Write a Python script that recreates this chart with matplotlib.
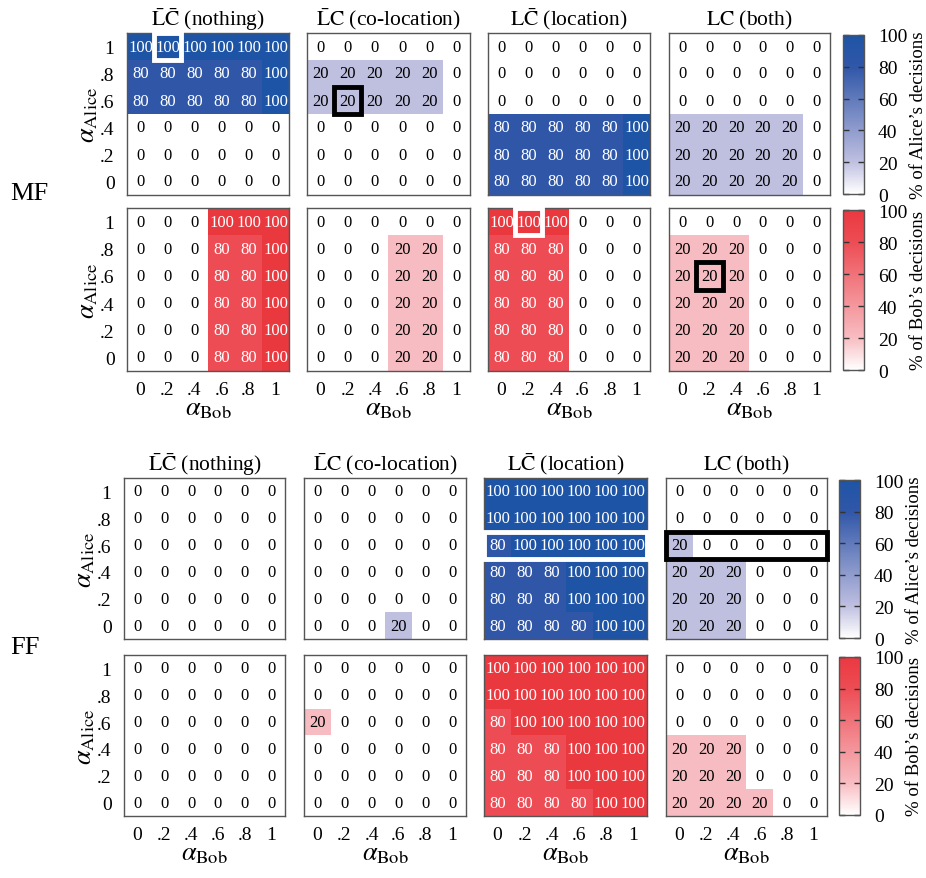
import numpy as np
import matplotlib
matplotlib.use('Agg')
import matplotlib.pyplot as plt
from matplotlib.colors import LinearSegmentedColormap
from matplotlib.patches import Rectangle

plt.rcParams['font.family'] = ['Liberation Serif', 'STIXGeneral']
plt.rcParams['mathtext.fontset'] = 'stix'

alpha_ticks = ['0', '.2', '.4', '.6', '.8', '1']
alice_ticks = ['1', '.8', '.6', '.4', '.2', '0']   # top row first
titles = [r'$\bar{\mathrm{L}}\bar{\mathrm{C}}$ (nothing)',
          r'$\bar{\mathrm{L}}\mathrm{C}$ (co-location)',
          r'$\mathrm{L}\bar{\mathrm{C}}$ (location)',
          r'$\mathrm{LC}$ (both)']

# rows: alpha_Alice = 1, .8, .6, .4, .2, 0 ; cols: alpha_Bob = 0 ... 1
mf_alice_nothing = [[100, 100, 100, 100, 100, 100],
                    [80, 80, 80, 80, 80, 100],
                    [80, 80, 80, 80, 80, 100],
                    [0, 0, 0, 0, 0, 0],
                    [0, 0, 0, 0, 0, 0],
                    [0, 0, 0, 0, 0, 0]]
mf_alice_coloc = [[0, 0, 0, 0, 0, 0],
                  [20, 20, 20, 20, 20, 0],
                  [20, 20, 20, 20, 20, 0],
                  [0, 0, 0, 0, 0, 0],
                  [0, 0, 0, 0, 0, 0],
                  [0, 0, 0, 0, 0, 0]]
mf_alice_loc = [[0, 0, 0, 0, 0, 0],
                [0, 0, 0, 0, 0, 0],
                [0, 0, 0, 0, 0, 0],
                [80, 80, 80, 80, 80, 100],
                [80, 80, 80, 80, 80, 100],
                [80, 80, 80, 80, 80, 100]]
mf_alice_both = [[0, 0, 0, 0, 0, 0],
                 [0, 0, 0, 0, 0, 0],
                 [0, 0, 0, 0, 0, 0],
                 [20, 20, 20, 20, 20, 0],
                 [20, 20, 20, 20, 20, 0],
                 [20, 20, 20, 20, 20, 0]]

mf_bob_nothing = [[0, 0, 0, 100, 100, 100],
                  [0, 0, 0, 80, 80, 100],
                  [0, 0, 0, 80, 80, 100],
                  [0, 0, 0, 80, 80, 100],
                  [0, 0, 0, 80, 80, 100],
                  [0, 0, 0, 80, 80, 100]]
mf_bob_coloc = [[0, 0, 0, 0, 0, 0],
                [0, 0, 0, 20, 20, 0],
                [0, 0, 0, 20, 20, 0],
                [0, 0, 0, 20, 20, 0],
                [0, 0, 0, 20, 20, 0],
                [0, 0, 0, 20, 20, 0]]
mf_bob_loc = [[100, 100, 100, 0, 0, 0],
              [80, 80, 80, 0, 0, 0],
              [80, 80, 80, 0, 0, 0],
              [80, 80, 80, 0, 0, 0],
              [80, 80, 80, 0, 0, 0],
              [80, 80, 80, 0, 0, 0]]
mf_bob_both = [[0, 0, 0, 0, 0, 0],
               [20, 20, 20, 0, 0, 0],
               [20, 20, 20, 0, 0, 0],
               [20, 20, 20, 0, 0, 0],
               [20, 20, 20, 0, 0, 0],
               [20, 20, 20, 0, 0, 0]]

ff_alice_nothing = [[0] * 6 for _ in range(6)]
ff_alice_coloc = [[0, 0, 0, 0, 0, 0],
                  [0, 0, 0, 0, 0, 0],
                  [0, 0, 0, 0, 0, 0],
                  [0, 0, 0, 0, 0, 0],
                  [0, 0, 0, 0, 0, 0],
                  [0, 0, 0, 20, 0, 0]]
ff_alice_loc = [[100, 100, 100, 100, 100, 100],
                [100, 100, 100, 100, 100, 100],
                [80, 100, 100, 100, 100, 100],
                [80, 80, 80, 100, 100, 100],
                [80, 80, 80, 100, 100, 100],
                [80, 80, 80, 80, 100, 100]]
ff_alice_both = [[0, 0, 0, 0, 0, 0],
                 [0, 0, 0, 0, 0, 0],
                 [20, 0, 0, 0, 0, 0],
                 [20, 20, 20, 0, 0, 0],
                 [20, 20, 20, 0, 0, 0],
                 [20, 20, 20, 0, 0, 0]]

ff_bob_nothing = [[0] * 6 for _ in range(6)]
ff_bob_coloc = [[0, 0, 0, 0, 0, 0],
                [0, 0, 0, 0, 0, 0],
                [20, 0, 0, 0, 0, 0],
                [0, 0, 0, 0, 0, 0],
                [0, 0, 0, 0, 0, 0],
                [0, 0, 0, 0, 0, 0]]
ff_bob_loc = [[100, 100, 100, 100, 100, 100],
              [100, 100, 100, 100, 100, 100],
              [80, 100, 100, 100, 100, 100],
              [80, 80, 80, 100, 100, 100],
              [80, 80, 80, 100, 100, 100],
              [80, 80, 80, 80, 100, 100]]
ff_bob_both = [[0, 0, 0, 0, 0, 0],
               [0, 0, 0, 0, 0, 0],
               [0, 0, 0, 0, 0, 0],
               [20, 20, 20, 0, 0, 0],
               [20, 20, 20, 0, 0, 0],
               [20, 20, 20, 20, 0, 0]]

blues = LinearSegmentedColormap.from_list('alice', [
    (0.0, (1, 1, 1)), (0.2, (0.75, 0.75, 0.88)),
    (0.8, (0.19, 0.34, 0.66)), (1.0, (0.12, 0.33, 0.65))])
reds = LinearSegmentedColormap.from_list('bob', [
    (0.0, (1, 1, 1)), (0.2, (0.97, 0.74, 0.76)),
    (0.8, (0.93, 0.30, 0.33)), (1.0, (0.92, 0.22, 0.25))])

rows = [
    dict(data=[mf_alice_nothing, mf_alice_coloc, mf_alice_loc, mf_alice_both],
         cmap=blues, label='% of Alice’s decisions', y=(34, 196), xs='MF', titles=True, xt=False),
    dict(data=[mf_bob_nothing, mf_bob_coloc, mf_bob_loc, mf_bob_both],
         cmap=reds, label='% of Bob’s decisions', y=(209, 372), xs='MF', titles=False, xt=True),
    dict(data=[ff_alice_nothing, ff_alice_coloc, ff_alice_loc, ff_alice_both],
         cmap=blues, label='% of Alice’s decisions', y=(479, 640), xs='FF', titles=True, xt=False),
    dict(data=[ff_bob_nothing, ff_bob_coloc, ff_bob_loc, ff_bob_both],
         cmap=reds, label='% of Bob’s decisions', y=(656, 817), xs='FF', titles=False, xt=True),
]
col_x = {'MF': [(127, 289), (307, 470), (488, 650), (669, 830), (843, 864)],
         'FF': [(124, 285), (304, 466), (484, 647), (666, 827), (839, 860)]}

# highlighted cells: (row index, panel, row, col, ncols, colour)
highlights = [(0, 0, 0, 1, 1, 'white'), (0, 1, 2, 1, 1, 'black'),
              (1, 2, 0, 1, 1, 'white'), (1, 3, 2, 1, 1, 'black'),
              (2, 2, 2, 0, 6, 'white'), (2, 3, 2, 0, 6, 'black')]

W, H = 926, 879
fig = plt.figure(figsize=(W / 100, H / 100), dpi=100)


def add_px(x0, x1, y0, y1):
    return fig.add_axes([x0 / W, 1 - y1 / H, (x1 - x0) / W, (y1 - y0) / H])


axes = {}
for ri, row in enumerate(rows):
    xs = col_x[row['xs']]
    y0, y1 = row['y']
    for pi, d in enumerate(row['data']):
        arr = np.array(d)
        ax = add_px(xs[pi][0], xs[pi][1], y0, y1)
        axes[(ri, pi)] = ax
        im = ax.imshow(arr, cmap=row['cmap'], vmin=0, vmax=100, aspect='auto',
                       extent=(-0.5, 5.5, 5.5, -0.5), interpolation='nearest')
        for r in range(6):
            for c in range(6):
                v = arr[r, c]
                ax.text(c, r, str(v), ha='center', va='center', fontsize=12,
                        color='white' if v >= 50 else 'black')
        for s in ax.spines.values():
            s.set_color('#555555')
            s.set_linewidth(1)
        ax.tick_params(length=0)
        ax.set_xticks(range(6))
        ax.set_yticks(range(6))
        if row['xt']:
            ax.set_xticklabels(alpha_ticks, fontsize=14)
            ax.tick_params(axis='x', pad=7)
            ax.set_xlabel(r'$\alpha_{\mathrm{Bob}}$', fontsize=19, labelpad=0)
        else:
            ax.set_xticklabels([])
        if pi == 0:
            ax.set_yticklabels(alice_ticks, fontsize=14)
            ax.tick_params(axis='y', pad=9)
            ax.set_ylabel(r'$\alpha_{\mathrm{Alice}}$', fontsize=19, labelpad=0)
        else:
            ax.set_yticklabels([])
        if row['titles']:
            ax.set_title(titles[pi], fontsize=15.5, pad=6)
    cax = add_px(xs[4][0], xs[4][1], y0 + 2, y1 - 1)
    cb = fig.colorbar(im, cax=cax, ticks=[0, 20, 40, 60, 80, 100])
    cb.outline.set_edgecolor('#555555')
    cb.outline.set_linewidth(1)
    cax.tick_params(direction='in', length=4, width=1, color='#333333',
                    left=True, right=True, labelsize=14, pad=10)
    cb.set_label(row['label'], fontsize=13.5, labelpad=2)

for ri, pi, r, c, n, col in highlights:
    ax = axes[(ri, pi)]
    ax.add_patch(Rectangle((c - 0.5, r - 0.5), n, 1, fill=False, ec=col,
                           lw=3.5, clip_on=False, zorder=5))

fig.text(10 / W, 1 - 194 / H, 'MF', fontsize=19, va='center', ha='left')
fig.text(10 / W, 1 - 648 / H, 'FF', fontsize=19, va='center', ha='left')

plt.savefig('out.png', dpi=100)
